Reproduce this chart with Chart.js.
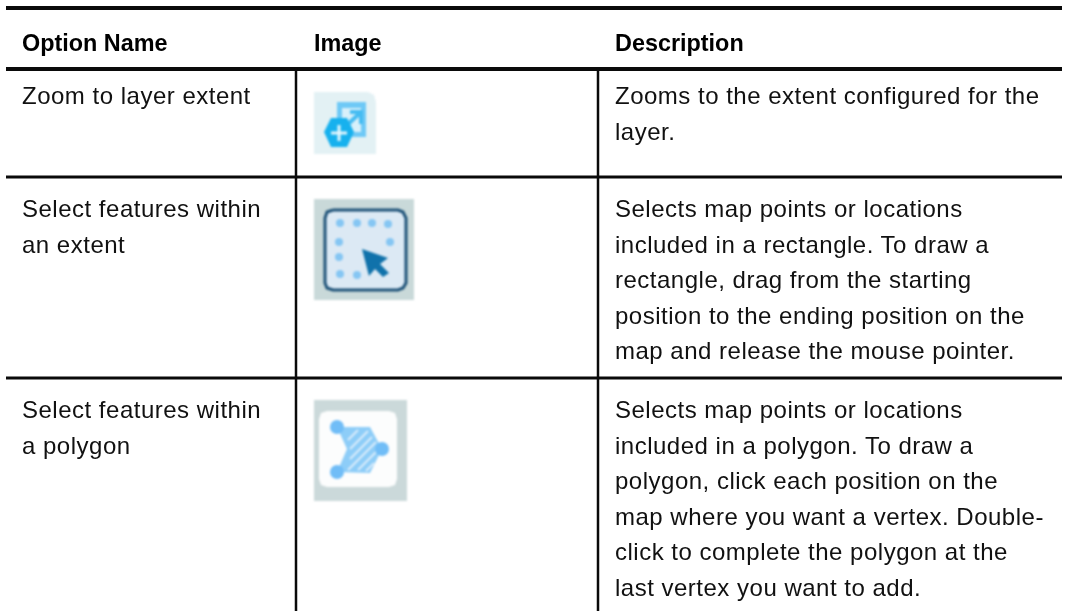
<!DOCTYPE html>
<html>
<head>
<meta charset="utf-8">
<script src="https://cdn.jsdelivr.net/npm/chart.js@4"></script>
<style>
html, body { margin: 0; padding: 0; background: #fff; }
#page { position: relative; width: 1068px; height: 611px; overflow: hidden; font-family: "Liberation Sans", sans-serif; color: #111; }
canvas { position: absolute; left: 0; top: 0; }
#icons { filter: blur(1.2px); }
.t { position: absolute; font-size: 24px; line-height: 36px; white-space: nowrap; letter-spacing: 0.5px; }
.h { font-weight: bold; color: #000; font-size: 23.4px; letter-spacing: 0; }
</style>
</head>
<body>
<div id="page">
  <canvas id="rules" width="1068" height="611"></canvas>
  <canvas id="icons" width="1068" height="611"></canvas>
</div>
<script>
// table text
const headers = ['Option Name', 'Image', 'Description'];
const optionNames = [
  ['Zoom to layer extent'],
  ['Select features within', 'an extent'],
  ['Select features within', 'a polygon']
];
const descriptions = [
  ['Zooms to the extent configured for the', 'layer.'],
  ['Selects map points or locations', 'included in a rectangle. To draw a', 'rectangle, drag from the starting', 'position to the ending position on the', 'map and release the mouse pointer.'],
  ['Selects map points or locations', 'included in a polygon. To draw a', 'polygon, click each position on the', 'map where you want a vertex. Double-', 'click to complete the polygon at the', 'last vertex you want to add.']
];

// rules, in page pixels
const topRule = [[6, 8], [1062, 8]];
const headRule = [[6, 69], [1062, 69]];
const row1Rule = [[6, 177], [1062, 177]];
const row2Rule = [[6, 378], [1062, 378]];
const leftRule = [[296, 68], [296, 611]];
const rightRule = [[598, 68], [598, 611]];

// icon 1
const zoomBg = [[314,92],[368,92],[374,95],[376,102],[376,154],[314,154]];
const zoomSquare = [[337,102],[366,102],[366,137],[337,137],[337,102]];
const zoomSquareInner = [[342,108],[361,108],[361,132],[342,132]];
const zoomArrow = [[346,126],[361,112]];
const zoomArrowHead = [[350,112],[361,112],[361,124]];
const zoomHex = [[331,118],[347,118],[354,132],[347,147],[331,147],[324,132]];
const zoomPlusH = [[331,133],[347,133]];
const zoomPlusV = [[339,125],[339,141]];

// icon 2
const extentBg = [[314,199],[414,199],[414,300],[314,300]];
const extentBox = [[333,210],[398,210],[403,212],[406,218],[406,283],[403,288],[398,290],[333,290],[327,288],[325,283],[325,218],[327,212],[333,210]];
const extentDots = [[340,223],[357,223],[372,223],[388,224],[390,242],[339,242],[339,257],[340,274],[357,275]];
const extentArrow = [[362,249],[388,258],[380,264],[389,273],[383,277],[375,269],[369,276]];

// icon 3
const polyBg = [[314,400],[407,400],[407,501],[314,501]];
const polyCard = [[327,411],[389,411],[395,413],[397,419],[397,479],[395,485],[389,487],[327,487],[321,485],[319,479],[319,419],[321,413]];
const polyShape = [[337,427],[370,427],[382,449],[370,473],[337,472],[347,449]];
const polyDots = [[337,427],[382,449],[337,472]];
const polyHatch = [
  [[348,440],[358,430]],
  [[350,449],[368,431]],
  [[350,459],[372,437]],
  [[348,470],[376,442]],
  [[358,470],[377,451]],
  [[366,471],[374,463]]
];

const pts = a => a.map(p => ({x: p[0], y: p[1]}));

function shape(data, color) {
  return {data: pts(data), showLine: true, fill: 'shape', backgroundColor: color, borderWidth: 0, pointRadius: 0, tension: 0};
}
function stroke(data, color, width) {
  return {data: pts(data), showLine: true, fill: false, borderColor: color, borderWidth: width, pointRadius: 0, tension: 0};
}
function dots(data, color, radius) {
  return {data: pts(data), showLine: false, backgroundColor: color, borderWidth: 0, pointRadius: radius};
}

function draw(id, sets) {
  sets.forEach((s, i) => { s.order = -i; });
  return new Chart(document.getElementById(id), {
    type: 'scatter',
    data: {datasets: sets},
    options: {
      responsive: false,
      animation: false,
      layout: {padding: 0, autoPadding: false},
      plugins: {legend: {display: false}, tooltip: {enabled: false}},
      scales: {
        x: {type: 'linear', display: false, min: 0, max: 1068},
        y: {type: 'linear', display: false, min: 0, max: 611, reverse: true}
      }
    }
  });
}

draw('rules', [
  stroke(topRule, '#0a0a0a', 4),
  stroke(headRule, '#0a0a0a', 4),
  stroke(row1Rule, '#0a0a0a', 3),
  stroke(row2Rule, '#0a0a0a', 3),
  stroke(leftRule, '#0a0a0a', 2.5),
  stroke(rightRule, '#0a0a0a', 2.5)
]);

draw('icons', [
  shape(zoomBg, '#e3f1f4'),
  shape(zoomSquare, '#6ec9f6'),
  shape(zoomSquareInner, '#d8f0fa'),
  stroke(zoomArrow, '#45bcf2', 4),
  stroke(zoomArrowHead, '#45bcf2', 4),
  shape(zoomHex, '#17b1ee'),
  stroke(zoomPlusH, '#e6f7fd', 3),
  stroke(zoomPlusV, '#e6f7fd', 3),

  shape(extentBg, '#c9d9d9'),
  shape(extentBox, '#dce9f4'),
  stroke(extentBox, '#1f5379', 3),
  dots(extentDots, '#85c6f3', 4),
  shape(extentArrow, '#1072ab'),

  shape(polyBg, '#cbd9da'),
  shape(polyCard, '#fcfdfd'),
  shape(polyShape, '#8dcdf8'),
  ...polyHatch.map(h => stroke(h, '#dcedfb', 2)),
  dots(polyDots, '#70bdf7', 7)
]);

// text goes over the canvases as plain html
const page = document.getElementById('page');
function put(text, x, y, cls) {
  const d = document.createElement('div');
  d.className = cls;
  d.textContent = text;
  d.style.left = x + 'px';
  d.style.top = (y - 18) + 'px';
  page.appendChild(d);
}
const colX = [22, 314, 615];
headers.forEach((h, i) => put(h, colX[i], 43, 't h'));
const rowY = [96, 209, 410];
optionNames.forEach((lines, r) => lines.forEach((l, i) => put(l, colX[0], rowY[r] + i * 35.6, 't')));
descriptions.forEach((lines, r) => lines.forEach((l, i) => put(l, colX[2], rowY[r] + i * 35.6, 't')));
</script>
</body>
</html>
